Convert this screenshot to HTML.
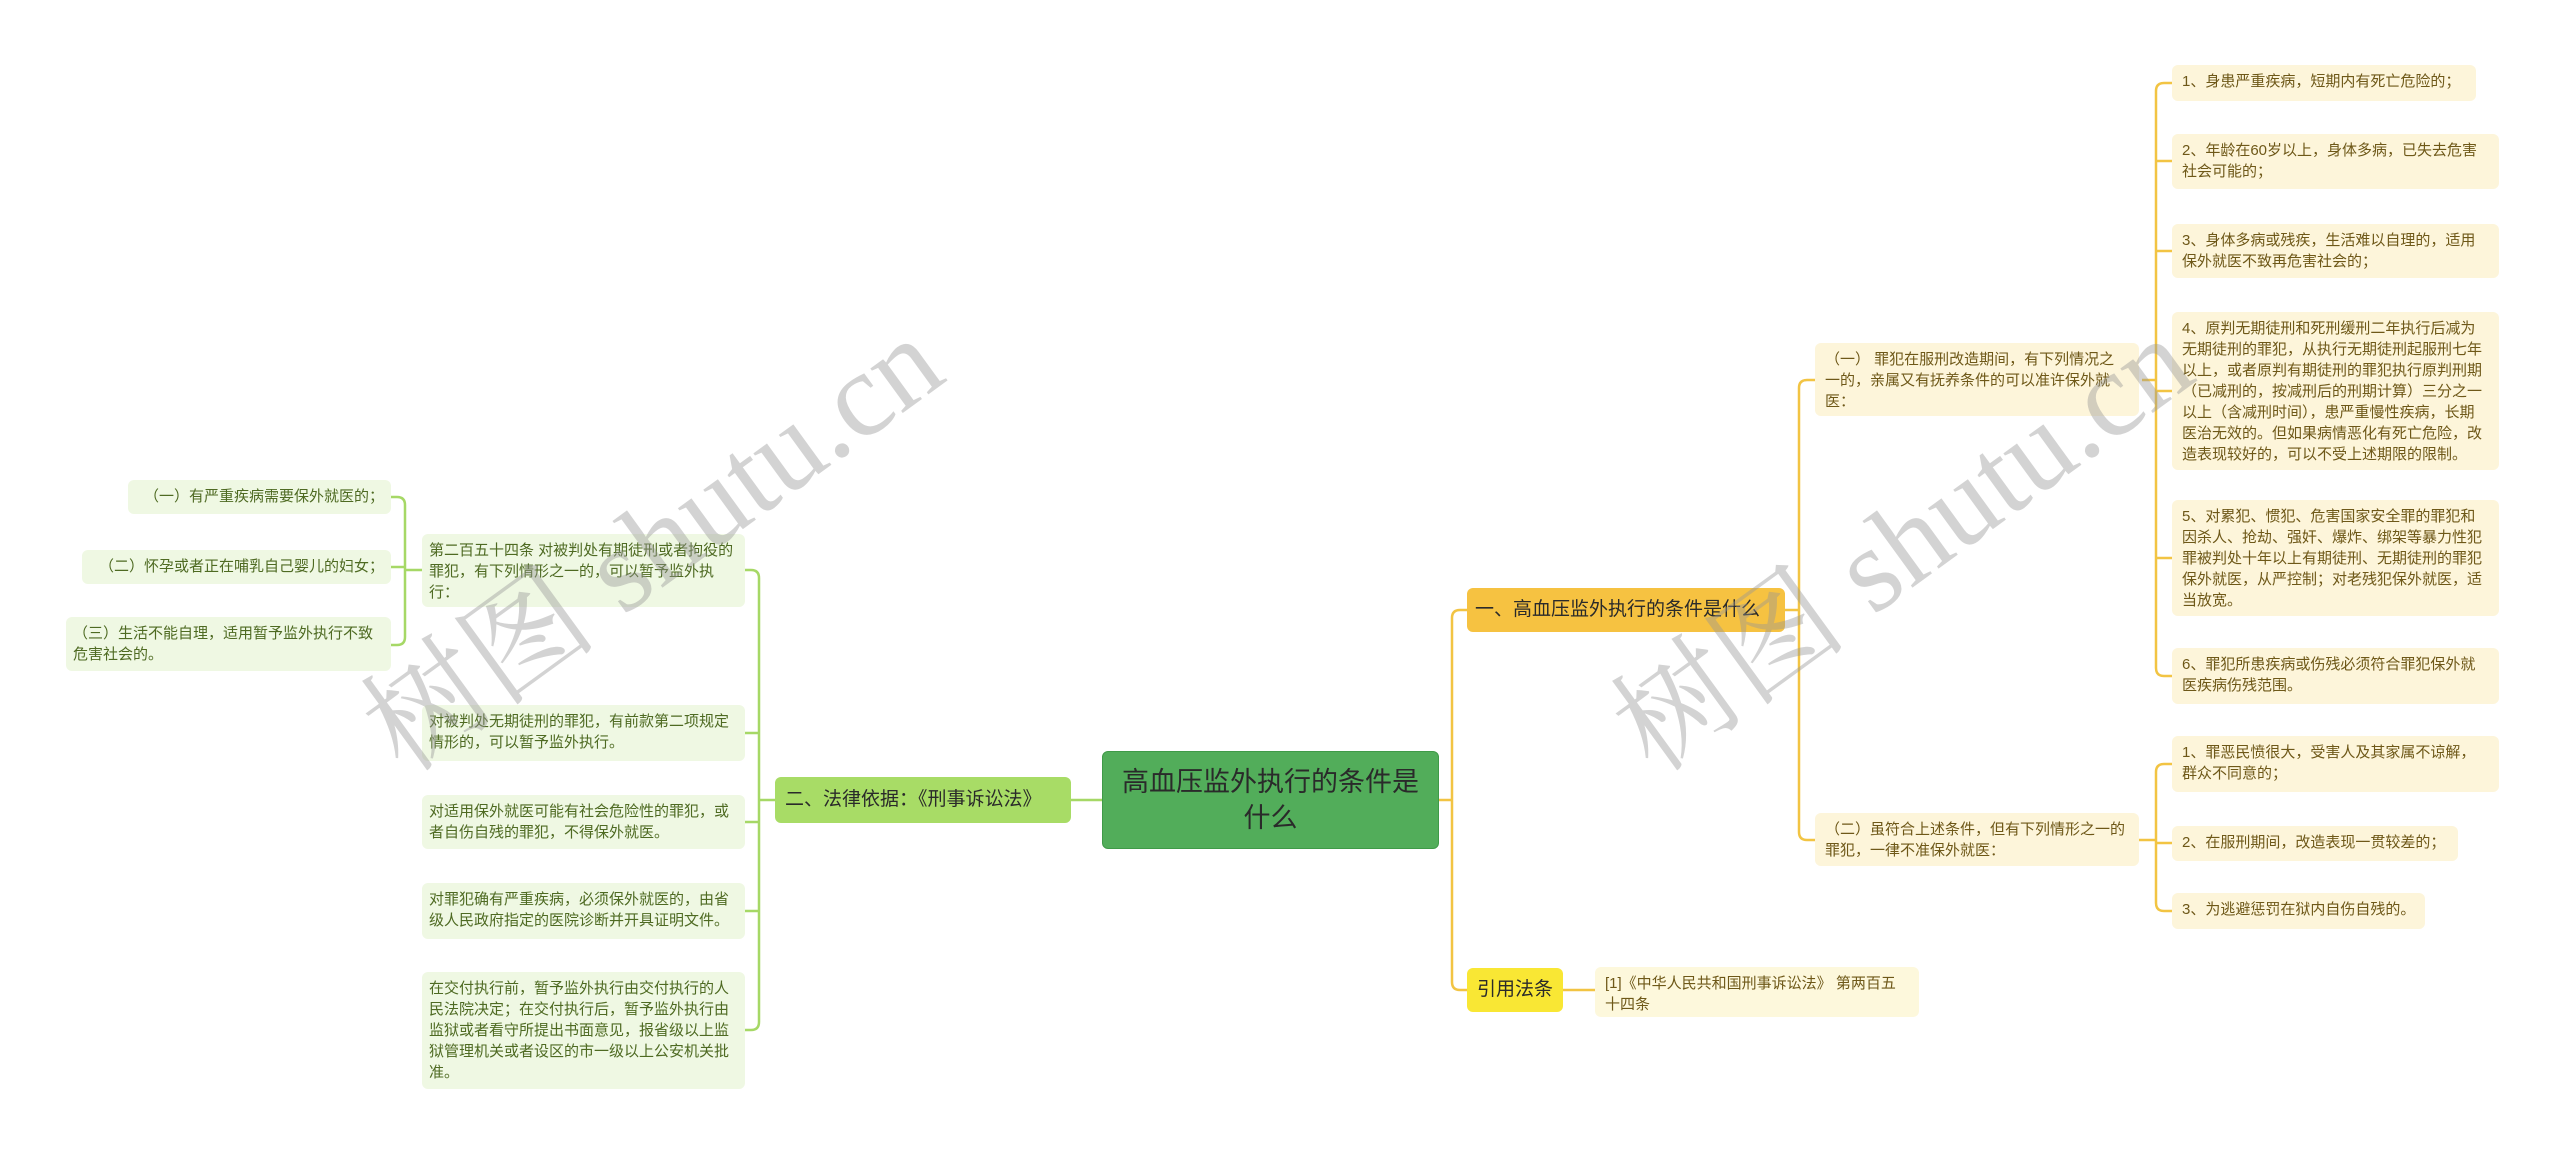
<!DOCTYPE html>
<html><head><meta charset="utf-8"><style>
body{margin:0;width:2560px;height:1152px;background:#fff;position:relative;overflow:hidden;font-family:"Liberation Sans","Noto Sans CJK SC",sans-serif}
.b{position:absolute;box-sizing:border-box;border-radius:6px;font-size:15px;line-height:21px;padding:6px 7px}
.n{white-space:nowrap}
.g{background:#eff8e3;color:#4e6a22}
.y{background:#fdf5da;color:#6e5818;padding:6px 10px}
.wm{position:absolute;font-family:"Liberation Serif","Noto Serif CJK SC",serif;font-size:120px;color:rgba(150,150,150,0.42);transform:rotate(-36deg);white-space:nowrap;transform-origin:center}
</style></head><body>
<svg width="2560" height="1152" style="position:absolute;left:0;top:0">
<g fill="none" stroke="#a6d866" stroke-width="2.5">
<path d="M1102 800 H1071"/>
<path d="M775 800 H759"/>
<path d="M745 570 H751 Q759 570 759 578 V1022 Q759 1030 751 1030 H745"/>
<path d="M745 733 H759 M745 822 H759 M745 911 H759"/>
<path d="M422 570 H405"/>
<path d="M391 497 H397 Q405 497 405 505 V637 Q405 645 397 645 H391"/>
<path d="M391 567 H405"/>
</g>
<g fill="none" stroke="#f2c443" stroke-width="2.5">
<path d="M1437 800 H1452"/>
<path d="M1467 610 H1460 Q1452 610 1452 618 V982 Q1452 990 1460 990 H1467"/>
<path d="M1563 990 H1595"/>
<path d="M1785 610 H1799"/>
<path d="M1815 380 H1807 Q1799 380 1799 388 V832 Q1799 840 1807 840 H1815"/>
<path d="M2142 380 H2156"/>
<path d="M2172 83 H2164 Q2156 83 2156 91 V668 Q2156 676 2164 676 H2172"/>
<path d="M2156 161 H2172 M2156 251 H2172 M2156 391 H2172 M2156 558 H2172"/>
<path d="M2139 840 H2156"/>
<path d="M2172 764 H2164 Q2156 764 2156 772 V903 Q2156 911 2164 911 H2172"/>
<path d="M2156 843 H2172"/>
</g>
</svg>

<div class="b" style="left:1102px;top:751px;width:337px;height:98px;background:#52ad5a;border:1px solid #3f9a48;color:#2a2a2a;font-size:27px;line-height:36px;text-align:center;padding:12px 10px">高血压监外执行的条件是什么</div>

<div class="b n" style="left:775px;top:777px;width:296px;height:46px;background:#a8dc66;color:#2a2a2a;font-size:19px;line-height:34px;padding:6px 10px">二、法律依据：《刑事诉讼法》</div>

<div class="b g" style="left:422px;top:534px;width:323px;height:73px">第二百五十四条 对被判处有期徒刑或者拘役的罪犯，有下列情形之一的，可以暂予监外执行：</div>
<div class="b g" style="left:422px;top:705px;width:323px;height:56px">对被判处无期徒刑的罪犯，有前款第二项规定情形的，可以暂予监外执行。</div>
<div class="b g" style="left:422px;top:795px;width:323px;height:54px">对适用保外就医可能有社会危险性的罪犯，或者自伤自残的罪犯，不得保外就医。</div>
<div class="b g" style="left:422px;top:883px;width:323px;height:56px">对罪犯确有严重疾病，必须保外就医的，由省级人民政府指定的医院诊断并开具证明文件。</div>
<div class="b g" style="left:422px;top:972px;width:323px;height:117px">在交付执行前，暂予监外执行由交付执行的人民法院决定；在交付执行后，暂予监外执行由监狱或者看守所提出书面意见，报省级以上监狱管理机关或者设区的市一级以上公安机关批准。</div>

<div class="b g n" style="left:128px;top:480px;width:263px;height:34px;text-align:right">（一）有严重疾病需要保外就医的；</div>
<div class="b g n" style="left:82px;top:550px;width:309px;height:34px;text-align:right">（二）怀孕或者正在哺乳自己婴儿的妇女；</div>
<div class="b g" style="left:66px;top:617px;width:325px;height:54px">（三）生活不能自理，适用暂予监外执行不致危害社会的。</div>

<div class="b n" style="left:1467px;top:588px;width:318px;height:44px;background:#f6c241;color:#2a2a2a;font-size:19px;line-height:32px;padding:6px 8px">一、高血压监外执行的条件是什么</div>
<div class="b n" style="left:1467px;top:968px;width:96px;height:44px;background:#f9e734;color:#2a2a2a;font-size:19px;line-height:32px;padding:6px 10px">引用法条</div>
<div class="b" style="left:1595px;top:967px;width:324px;height:50px;background:#fdf8dc;color:#6e5818;padding:6px 10px">[1]《中华人民共和国刑事诉讼法》 第两百五十四条</div>

<div class="b y" style="left:1815px;top:343px;width:324px;height:73px">（一） 罪犯在服刑改造期间，有下列情况之一的，亲属又有抚养条件的可以准许保外就医：</div>
<div class="b y" style="left:1815px;top:813px;width:324px;height:53px">（二）虽符合上述条件，但有下列情形之一的罪犯，一律不准保外就医：</div>

<div class="b y n" style="left:2172px;top:65px;width:304px;height:36px">1、身患严重疾病，短期内有死亡危险的；</div>
<div class="b y" style="left:2172px;top:134px;width:327px;height:55px">2、年龄在60岁以上，身体多病，已失去危害社会可能的；</div>
<div class="b y" style="left:2172px;top:224px;width:327px;height:54px">3、身体多病或残疾，生活难以自理的，适用保外就医不致再危害社会的；</div>
<div class="b y" style="left:2172px;top:312px;width:327px;height:158px">4、原判无期徒刑和死刑缓刑二年执行后减为无期徒刑的罪犯，从执行无期徒刑起服刑七年以上，或者原判有期徒刑的罪犯执行原判刑期（已减刑的，按减刑后的刑期计算）三分之一以上（含减刑时间），患严重慢性疾病，长期医治无效的。但如果病情恶化有死亡危险，改造表现较好的，可以不受上述期限的限制。</div>
<div class="b y" style="left:2172px;top:500px;width:327px;height:116px">5、对累犯、惯犯、危害国家安全罪的罪犯和因杀人、抢劫、强奸、爆炸、绑架等暴力性犯罪被判处十年以上有期徒刑、无期徒刑的罪犯保外就医，从严控制；对老残犯保外就医，适当放宽。</div>
<div class="b y" style="left:2172px;top:648px;width:327px;height:56px">6、罪犯所患疾病或伤残必须符合罪犯保外就医疾病伤残范围。</div>
<div class="b y" style="left:2172px;top:736px;width:327px;height:56px">1、罪恶民愤很大，受害人及其家属不谅解，群众不同意的；</div>
<div class="b y n" style="left:2172px;top:826px;width:286px;height:35px">2、在服刑期间，改造表现一贯较差的；</div>
<div class="b y n" style="left:2172px;top:893px;width:253px;height:36px">3、为逃避惩罚在狱内自伤自残的。</div>

<div class="wm" style="left:310px;top:450px">树图 shutu.cn</div>
<div class="wm" style="left:1560px;top:450px">树图 shutu.cn</div>
</body></html>
